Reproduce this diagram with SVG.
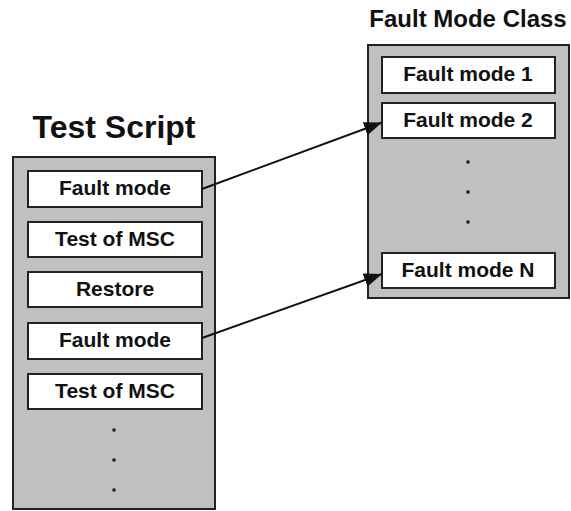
<svg xmlns="http://www.w3.org/2000/svg" width="571" height="511" viewBox="0 0 571 511">
  <style>
    .panel { fill: #c0c0c0; stroke: #222; stroke-width: 2; }
    .item { fill: #fff; stroke: #222; stroke-width: 2; }
    .label { font-family: "Liberation Sans", Arial, sans-serif; font-weight: bold; font-size: 21px; fill: #111; text-anchor: middle; }
    .title { font-family: "Liberation Sans", Arial, sans-serif; font-weight: bold; fill: #111; text-anchor: middle; }
    .dot { fill: #111; }
    .link { stroke: #111; stroke-width: 2; fill: none; }
  </style>
  <defs>
    <marker id="arrow" markerUnits="userSpaceOnUse" markerWidth="20" markerHeight="14" refX="18" refY="7" orient="auto">
      <path d="M0,0 L18,7 L0,14 Z" fill="#111"/>
    </marker>
  </defs>
  <rect width="571" height="511" fill="#fff"/>

  <!-- Test Script -->
  <g id="test-script">
    <text class="title" x="114" y="138" font-size="32">Test Script</text>
    <rect class="panel" x="13" y="157" width="202" height="352"/>
    <g id="ts-fault-mode-1">
      <rect class="item" x="28" y="171" width="174" height="36"/>
      <text class="label" x="115" y="195">Fault mode</text>
    </g>
    <g id="ts-test-msc-1">
      <rect class="item" x="28" y="222" width="174" height="35"/>
      <text class="label" x="115" y="246">Test of MSC</text>
    </g>
    <g id="ts-restore">
      <rect class="item" x="28" y="272" width="174" height="35"/>
      <text class="label" x="115" y="296">Restore</text>
    </g>
    <g id="ts-fault-mode-2">
      <rect class="item" x="28" y="323" width="174" height="36"/>
      <text class="label" x="115" y="347">Fault mode</text>
    </g>
    <g id="ts-test-msc-2">
      <rect class="item" x="28" y="374" width="174" height="35"/>
      <text class="label" x="115" y="398">Test of MSC</text>
    </g>
    <rect class="dot" x="112.5" y="428.5" width="3" height="3"/>
    <rect class="dot" x="112.5" y="458.5" width="3" height="3"/>
    <rect class="dot" x="112.5" y="488.5" width="3" height="3"/>
  </g>

  <!-- Fault Mode Class -->
  <g id="fault-mode-class">
    <text class="title" x="468" y="27" font-size="24">Fault Mode Class</text>
    <rect class="panel" x="368" y="45" width="201" height="253"/>
    <g id="fm-1">
      <rect class="item" x="382" y="57" width="173" height="36"/>
      <text class="label" x="468" y="81">Fault mode 1</text>
    </g>
    <g id="fm-2">
      <rect class="item" x="382" y="103" width="173" height="35"/>
      <text class="label" x="468" y="127">Fault mode 2</text>
    </g>
    <rect class="dot" x="466.5" y="160.5" width="3" height="3"/>
    <rect class="dot" x="466.5" y="190.5" width="3" height="3"/>
    <rect class="dot" x="466.5" y="220.5" width="3" height="3"/>
    <g id="fm-n">
      <rect class="item" x="382" y="253" width="173" height="35"/>
      <text class="label" x="468" y="277">Fault mode N</text>
    </g>
  </g>

  <!-- Connectors -->
  <g id="connectors">
    <line class="link" x1="202" y1="189" x2="382" y2="122.5" marker-end="url(#arrow)"/>
    <line class="link" x1="202" y1="338" x2="382" y2="274" marker-end="url(#arrow)"/>
  </g>
</svg>
